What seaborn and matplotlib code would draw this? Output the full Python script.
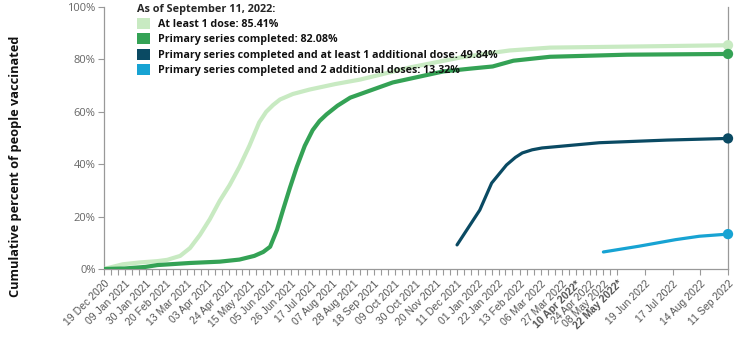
import matplotlib
matplotlib.use("Agg")
import matplotlib.pyplot as plt
from matplotlib.patches import Patch
import seaborn as sns
import pandas as pd

# ---------------- data ----------------
dose1_dates = ["2020-12-19", "2021-01-07", "2021-01-24", "2021-02-11", "2021-02-21",
               "2021-03-06", "2021-03-16", "2021-03-26", "2021-04-05", "2021-04-15",
               "2021-04-25", "2021-05-05", "2021-05-15", "2021-05-25", "2021-06-01",
               "2021-06-08", "2021-06-15", "2021-06-28", "2021-07-15", "2021-08-10",
               "2021-09-04", "2021-10-24", "2021-12-14", "2022-01-10", "2022-02-02",
               "2022-03-15", "2022-06-24", "2022-09-11"]
dose1_values = [0.0, 1.8, 2.5, 3.0, 3.5,
                5.0, 8.0, 13.0, 19.0, 26.0,
                32.0, 39.0, 47.0, 56.0, 60.0,
                62.6, 64.7, 66.8, 68.5, 70.6,
                72.3, 76.9, 80.7, 82.2, 83.4,
                84.5, 85.0, 85.41]

primary_dates = ["2020-12-19", "2021-01-09", "2021-01-30", "2021-02-11", "2021-03-16",
                 "2021-04-15", "2021-05-05", "2021-05-20", "2021-05-29", "2021-06-05",
                 "2021-06-12", "2021-06-18", "2021-06-25", "2021-07-02", "2021-07-10",
                 "2021-07-18", "2021-07-25", "2021-08-01", "2021-08-12", "2021-08-25",
                 "2021-10-07", "2021-11-27", "2021-12-25", "2022-01-16", "2022-02-06",
                 "2022-03-15", "2022-06-01", "2022-09-11"]
primary_values = [0.0, 0.2, 0.8, 1.5, 2.3,
                  2.8, 3.6, 5.0, 6.5, 8.5,
                  15.0, 22.5, 31.0, 39.0, 47.0,
                  53.0, 56.5, 59.0, 62.3, 65.4,
                  71.2, 75.4, 76.5, 77.3, 79.5,
                  81.0, 81.8, 82.08]

booster1_dates = ["2021-12-11", "2022-01-03", "2022-01-15", "2022-01-30", "2022-02-08",
                  "2022-02-15", "2022-02-25", "2022-03-07", "2022-05-04", "2022-07-11",
                  "2022-09-11"]
booster1_values = [9.2, 22.5, 32.8, 39.7, 42.6,
                   44.3, 45.5, 46.2, 48.2, 49.2,
                   49.84]

booster2_dates = ["2022-05-08", "2022-06-13", "2022-07-20", "2022-08-13", "2022-09-11"]
booster2_values = [6.5, 8.7, 11.2, 12.5, 13.32]

series_names = ["At least 1 dose: 85.41%",
                "Primary series completed: 82.08%",
                "Primary series completed and at least 1 additional dose: 49.84%",
                "Primary series completed and 2 additional doses: 13.32%"]
series_colors = ["#c8eac2", "#34a255", "#0a4a63", "#17a3d3"]
series_widths = [3.0, 3.0, 2.3, 2.3]

legend_title = "As of September 11, 2022:"
y_label = "Cumulative percent of people vaccinated"
y_ticks = [0, 20, 40, 60, 80, 100]

x_tick_labels = ["19 Dec 2020", "09 Jan 2021", "30 Jan 2021", "20 Feb 2021", "13 Mar 2021",
                 "03 Apr 2021", "24 Apr 2021", "15 May 2021", "05 Jun 2021", "26 Jun 2021",
                 "17 Jul 2021", "07 Aug 2021", "28 Aug 2021", "18 Sep 2021", "09 Oct 2021",
                 "30 Oct 2021", "20 Nov 2021", "11 Dec 2021", "01 Jan 2022", "22 Jan 2022",
                 "13 Feb 2022", "06 Mar 2022", "27 Mar 2022", "10 Apr 2022*", "24 Apr 2022",
                 "08 May 2022", "22 May 2022*", "19 Jun 2022", "17 Jul 2022", "14 Aug 2022",
                 "11 Sep 2022"]

# ---------------- figure ----------------
sns.set_theme(style="ticks")
plt.rcParams['font.family'] = ['Open Sans', 'DejaVu Sans']

fig = plt.figure(figsize=(7.4, 3.37), dpi=100)
ax = fig.add_axes([104 / 740, 1 - 269 / 337, 624 / 740, 262 / 337])

all_dates = [dose1_dates, primary_dates, booster1_dates, booster2_dates]
all_values = [dose1_values, primary_values, booster1_values, booster2_values]

for d, v, c, lw in zip(all_dates, all_values, series_colors, series_widths):
    df = pd.DataFrame({"date": pd.to_datetime(d), "value": v})
    sns.lineplot(data=df, x="date", y="value", ax=ax, color=c, linewidth=lw,
                 solid_capstyle="round", solid_joinstyle="round", zorder=3)
    sns.scatterplot(data=df.tail(1), x="date", y="value", ax=ax, color=c,
                    s=55, edgecolor="none", zorder=4, clip_on=False)

# axes limits
ax.set_ylim(0, 100)
ax.set_xlim(pd.Timestamp("2020-12-19"), pd.Timestamp("2022-09-11"))

# y axis
ax.set_yticks(y_ticks)
ax.set_yticklabels([f"{t}%" for t in y_ticks])
ax.tick_params(axis="y", length=4, width=0.8, color="#999999", labelsize=8,
               labelcolor="#666666", pad=2)
fig.text(16 / 740, 1 - 166 / 337, y_label, rotation=90, ha="center", va="center",
         fontsize=9.2, fontweight="bold", color="#111111")

# x axis
tick_pos = pd.to_datetime([t.replace("*", "") for t in x_tick_labels], format="%d %b %Y")
ax.set_xticks(tick_pos)
ax.set_xticklabels(x_tick_labels, rotation=45, ha="right", rotation_mode="anchor",
                   family=["Liberation Sans", "DejaVu Sans"])
for lbl in ax.get_xticklabels():
    if "*" in lbl.get_text():
        lbl.set_fontweight("bold")
        lbl.set_color("#222222")
minor = list(pd.date_range("2020-12-19", "2022-02-06", freq="7D")) + \
        list(pd.date_range("2022-02-13", "2022-05-22", freq="7D"))
ax.set_xticks(minor, minor=True)
ax.tick_params(axis="x", which="both", length=4, width=0.8, color="#999999",
               labelsize=7.5, labelcolor="#555555", pad=3)
ax.set_xlabel("")
ax.set_ylabel("")

# spines
ax.spines["top"].set_visible(False)
for s in ["left", "bottom", "right"]:
    ax.spines[s].set_color("#999999")
    ax.spines[s].set_linewidth(0.9)

# legend
handles = [Patch(facecolor=c, edgecolor="none") for c in series_colors]
leg = fig.legend(handles, series_names, title=legend_title, loc="upper left",
                 bbox_to_anchor=(135 / 740, 1 - 1.5 / 337), frameon=False,
                 prop={"size": 7.7, "weight": "bold"}, handlelength=1.22,
                 handleheight=1.22, handletextpad=0.72, labelspacing=0.3,
                 borderaxespad=0, borderpad=0.2, alignment="left")
leg.get_title().set_fontsize(7.8)
leg.get_title().set_fontweight("bold")
for t in leg.get_texts():
    t.set_color("#111111")

fig.savefig("out.png", dpi=100)
